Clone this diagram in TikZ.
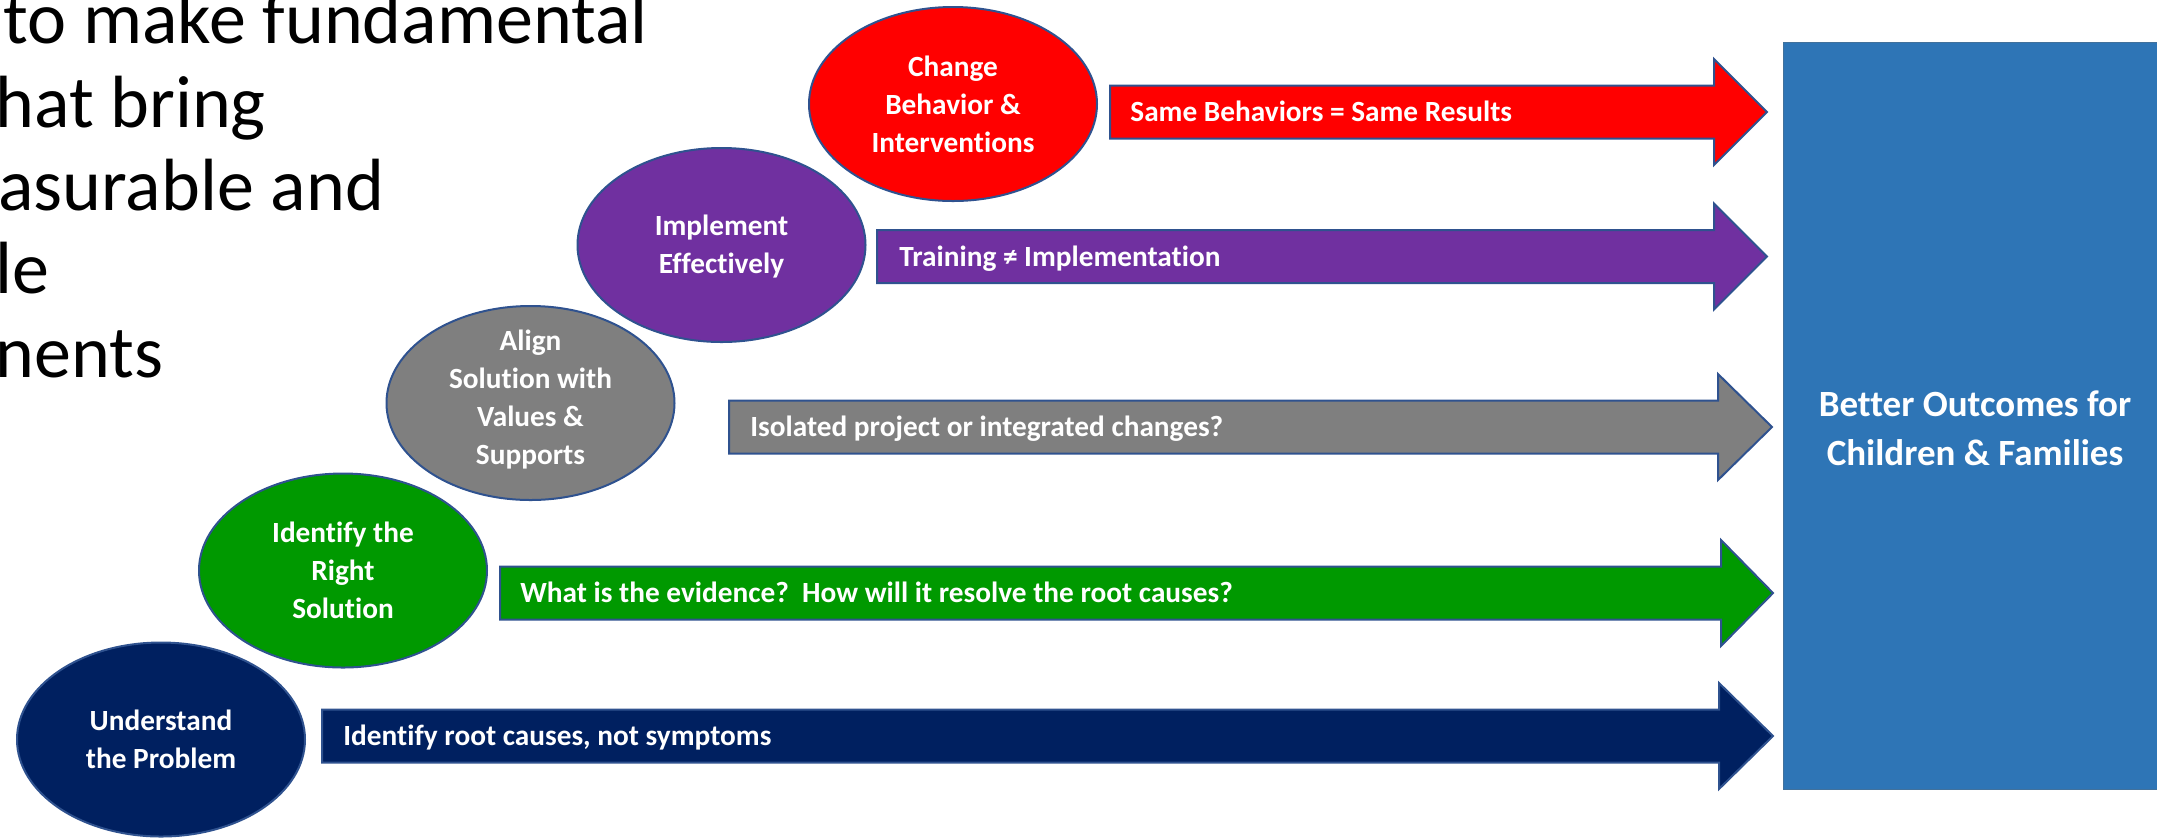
\documentclass[tikz,border=0pt]{standalone}
\usepackage{fontspec}
\setmainfont{Carlito}[Ligatures=NoCommon]
\usetikzlibrary{shapes.geometric}
\definecolor{cRed}{HTML}{FF0000}
\definecolor{cPurple}{HTML}{7030A0}
\definecolor{cGray}{HTML}{7F7F7F}
\definecolor{cGreen}{HTML}{009900}
\definecolor{cNavy}{HTML}{002060}
\definecolor{cBlue}{HTML}{2E75B6}
\definecolor{cEdge}{HTML}{2F528F}
\definecolor{cRectEdge}{HTML}{41719C}
\tikzset{
  stage/.style={ellipse, draw=cEdge, line width=1pt, minimum width=144pt, minimum height=97pt, inner sep=0pt},
  stagetext/.style={text=white, font=\bfseries\fontsize{14.65}{19}\selectfont, align=center, inner sep=0pt},
  barlabel/.style={text=white, font=\bfseries\fontsize{14.65}{19}\selectfont, anchor=base west, inner sep=0pt},
  blockarrow/.style={draw=cEdge, line width=1pt, line join=miter},
  introline/.style={text=black, font=\fontsize{37}{41.75}\selectfont, anchor=base west, inner sep=0pt},
  goal/.style={fill=cBlue, draw=cRectEdge, line width=0.6pt, anchor=north west, inner sep=0pt},
  goaltext/.style={text=white, font=\bfseries\fontsize{18.5}{24.5}\selectfont, align=center, inner sep=0pt}
}
% #1 shaft start x, #2 head base x, #3 tip x, #4 centre y, #5 fill colour
\newcommand{\stagearrow}[5]{%
  \draw[blockarrow, fill=#5] (#1,#4-26.5) -- (#2,#4-26.5) -- (#2,#4-53) -- (#3,#4)
    -- (#2,#4+53) -- (#2,#4+26.5) -- (#1,#4+26.5) -- cycle;}
\begin{document}
\begin{tikzpicture}[x=0.5pt, y=-0.5pt]
\useasboundingbox (0,0) rectangle (2157,837);
\clip (0,0) rectangle (2157,837);

% intro text (cut at the left edge, as in the reference)
\node[introline] (l1) at (3,43) {to make fundamental};
\node[introline] (l2) at (-5,127) {hat bring};
\node[introline] (l3) at (-2,210) {asurable and};
\node[introline] (l4) at (-5,293) {le};
\node[introline] (l5) at (-5,377) {nents};

% goal box
\node[goal, minimum width=195pt, minimum height=373.5pt] (goal) at (1783,42) {};
\node[goaltext] (goalt) at (1975,428.5) {Better Outcomes for\\Children \& Families};

% arrows
\stagearrow{1110}{1714}{1767}{112}{cRed}
\stagearrow{877}{1714}{1767}{256.5}{cPurple}
\stagearrow{729}{1718}{1772}{427}{cGray}
\stagearrow{500}{1721}{1773}{593}{cGreen}
\stagearrow{322}{1719}{1773}{736}{cNavy}

\node[barlabel] (a1) at (1130,121.5) {Same Behaviors = Same Results};
\node[barlabel] (a2) at (899,266) {Training ≠ Implementation};
\node[barlabel] (a3) at (750,436.5) {Isolated project or integrated changes?};
\node[barlabel] (a4) at (520,602.5) {What is the evidence?\ \ How will it resolve the root causes?};
\node[barlabel] (a5) at (343,745) {Identify root causes, not symptoms};

% stages
\node[stage, fill=cNavy] (s1) at (161,739.5) {};
\node[stage, fill=cGreen] (s2) at (343,570.5) {};
\node[stage, fill=cGray] (s3) at (530.5,403) {};
\node[stage, fill=cPurple] (s4) at (721.5,245) {};
\node[stage, fill=cRed] (s5) at (953,104) {};

\node[stagetext] (t1) at (s1.center) {Understand\\the Problem};
\node[stagetext] (t2) at (s2.center) {Identify the\\Right\\Solution};
\node[stagetext] (t3) at ([yshift=1.5pt]s3.center) {Align\\Solution with\\Values \&\\Supports};
\node[stagetext] (t4) at ([yshift=-1pt]s4.center) {Implement\\Effectively};
\node[stagetext] (t5) at (s5.center) {Change\\Behavior \&\\Interventions};
\end{tikzpicture}
\end{document}
